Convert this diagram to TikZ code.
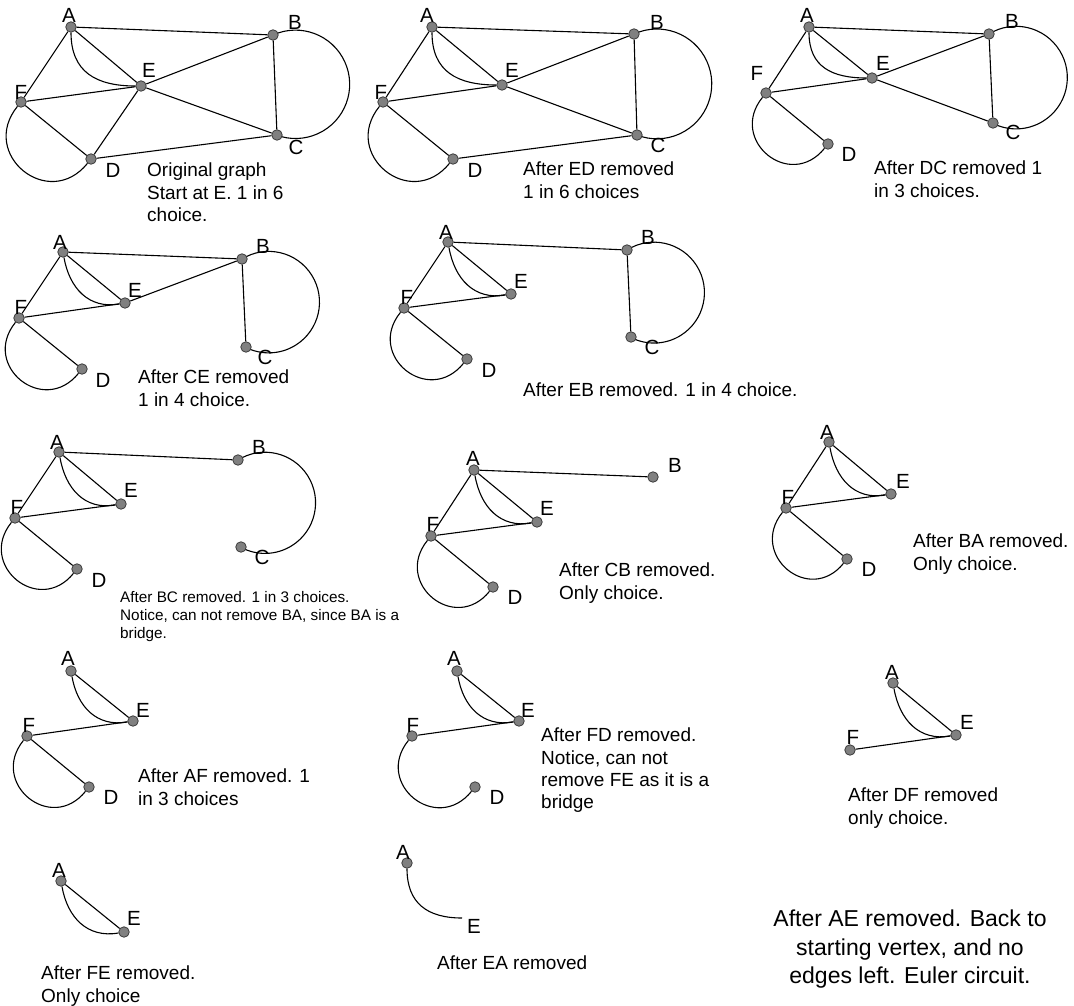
\documentclass[tikz,border=0pt]{standalone}
\usepackage{fontspec}
\setmainfont{Liberation Sans}
\definecolor{vfill}{RGB}{128,128,128}
\definecolor{vdraw}{RGB}{60,60,60}
\pgfdeclarelayer{bg}
\pgfsetlayers{bg,main}
\begin{document}
\begin{tikzpicture}[x=1pt,y=1pt,
  v/.style={circle,draw=vdraw,fill=vfill,minimum size=10.5pt,inner sep=0pt,line width=0.8pt},
  lab/.style={font=\fontsize{20.5}{22}\selectfont,inner sep=0pt},
  captxt/.style={font=\fontsize{19}{22.3}\selectfont,align=left,anchor=north west,inner sep=0pt},
  smallcaptxt/.style={font=\fontsize{15.3}{18}\selectfont,align=left,anchor=north west,inner sep=0pt},
  bigcaptxt/.style={font=\fontsize{23}{28.3}\selectfont,align=center,anchor=north,inner sep=0pt},
  e/.style={line width=1.1pt},
  aeA/.style={e,out=-90,in=180,looseness=1.2},
  aeB/.style={e,out=-80,in=190,looseness=1.1},
  fd/.style={e,out=-129,in=-129,looseness=1.75}]
\useasboundingbox (0,0) rectangle (1074,-1006);

% ---------- Panel 1 ----------
\node[v] (p1A) at (71,-27) {};
\node[v] (p1B) at (273,-35) {};
\node[v] (p1E) at (141,-86) {};
\node[v] (p1F) at (21,-102) {};
\node[v] (p1D) at (91,-159) {};
\node[v] (p1C) at (277,-135) {};
\node[lab] (p1a) at (69,-15) {A};
\node[lab] (p1b) at (295,-22) {B};
\node[lab] (p1e) at (149,-70) {E};
\node[lab] (p1f) at (21,-92) {F};
\node[lab] (p1d) at (113,-170) {D};
\node[lab] (p1c) at (296,-147) {C};
\draw[e] (p1A) -- (p1B);
\draw[e] (p1A) -- (p1E);
\draw[e] (p1A) -- (p1F);
\draw[aeA] (p1A) to (p1E);
\draw[e] (p1F) -- (p1E);
\draw[e] (p1F) -- (p1D);
\draw[fd] (p1F) to (p1D);
\draw[e] (p1E) -- (p1D);
\draw[e] (p1E) -- (p1B);
\draw[e] (p1E) -- (p1C);
\draw[e] (p1B) -- (p1C);
\draw[e] (p1D) -- (p1C);
\begin{pgfonlayer}{bg}
\draw[e] (p1B.center) arc[start angle=114.5,end angle=-110.6,radius=54.2];
\end{pgfonlayer}
\node[captxt] (p1t) at (147,-163) {Original graph\\Start at E. 1 in 6\\choice.};

% ---------- Panel 2 ----------
\node[v] (p2A) at (432,-27) {};
\node[v] (p2B) at (634,-34) {};
\node[v] (p2E) at (502,-85) {};
\node[v] (p2F) at (383,-102) {};
\node[v] (p2D) at (453,-159) {};
\node[v] (p2C) at (637,-135) {};
\node[lab] (p2a) at (427,-15) {A};
\node[lab] (p2b) at (657,-22) {B};
\node[lab] (p2e) at (512,-70) {E};
\node[lab] (p2f) at (381,-92) {F};
\node[lab] (p2d) at (475,-170) {D};
\node[lab] (p2c) at (658,-145) {C};
\draw[e] (p2A) -- (p2B);
\draw[e] (p2A) -- (p2E);
\draw[e] (p2A) -- (p2F);
\draw[aeA] (p2A) to (p2E);
\draw[e] (p2F) -- (p2E);
\draw[e] (p2F) -- (p2D);
\draw[fd] (p2F) to (p2D);
\draw[e] (p2E) -- (p2B);
\draw[e] (p2E) -- (p2C);
\draw[e] (p2B) -- (p2C);
\draw[e] (p2D) -- (p2C);
\begin{pgfonlayer}{bg}
\draw[e] (p2B.center) arc[start angle=114.6,end angle=-111.7,radius=54.9];
\end{pgfonlayer}
\node[captxt] (p2t) at (523,-162) {After ED removed\\1 in 6 choices};

% ---------- Panel 3 ----------
\node[v] (p3A) at (809,-27) {};
\node[v] (p3B) at (989,-34) {};
\node[v] (p3E) at (872,-78) {};
\node[v] (p3F) at (766,-93) {};
\node[v] (p3D) at (828,-144) {};
\node[v] (p3C) at (993,-123) {};
\node[lab] (p3a) at (807,-15) {A};
\node[lab] (p3b) at (1012,-21) {B};
\node[lab] (p3e) at (883,-63) {E};
\node[lab] (p3f) at (757,-73) {F};
\node[lab] (p3d) at (849,-154) {D};
\node[lab] (p3c) at (1013,-132) {C};
\draw[e] (p3A) -- (p3B);
\draw[e] (p3A) -- (p3E);
\draw[e] (p3A) -- (p3F);
\draw[aeA] (p3A) to (p3E);
\draw[e] (p3F) -- (p3E);
\draw[e] (p3F) -- (p3D);
\draw[fd] (p3F) to (p3D);
\draw[e] (p3E) -- (p3B);
\draw[e] (p3E) -- (p3C);
\draw[e] (p3B) -- (p3C);
\begin{pgfonlayer}{bg}
\draw[e] (p3B.center) arc[start angle=121.8,end angle=-117.9,radius=51.3];
\end{pgfonlayer}
\node[captxt] (p3t) at (874,-161) {After DC removed 1\\in 3 choices.};

% ---------- Panel 4 ----------
\node[v] (p4A) at (63,-252) {};
\node[v] (p4B) at (242,-259) {};
\node[v] (p4E) at (125,-303) {};
\node[v] (p4F) at (19,-318) {};
\node[v] (p4D) at (82,-369) {};
\node[v] (p4C) at (246,-347) {};
\node[lab] (p4a) at (60,-242) {A};
\node[lab] (p4b) at (263,-246) {B};
\node[lab] (p4e) at (135,-290) {E};
\node[lab] (p4f) at (21,-307) {F};
\node[lab] (p4d) at (103,-380) {D};
\node[lab] (p4c) at (265,-357) {C};
\draw[e] (p4A) -- (p4B);
\draw[e] (p4A) -- (p4E);
\draw[e] (p4A) -- (p4F);
\draw[aeB] (p4A) to (p4E);
\draw[e] (p4F) -- (p4E);
\draw[e] (p4F) -- (p4D);
\draw[fd] (p4F) to (p4D);
\draw[e] (p4E) -- (p4B);
\draw[e] (p4B) -- (p4C);
\begin{pgfonlayer}{bg}
\draw[e] (p4B.center) arc[start angle=121.8,end angle=-117.9,radius=50.75];
\end{pgfonlayer}
\node[captxt] (p4t) at (138,-370) {After CE removed\\1 in 4 choice.};

% ---------- Panel 5 ----------
\node[v] (p5A) at (448,-242) {};
\node[v] (p5B) at (627,-250) {};
\node[v] (p5E) at (511,-294) {};
\node[v] (p5F) at (404,-308) {};
\node[v] (p5D) at (467,-359) {};
\node[v] (p5C) at (631,-337) {};
\node[lab] (p5a) at (446,-232) {A};
\node[lab] (p5b) at (648,-237) {B};
\node[lab] (p5e) at (521,-281) {E};
\node[lab] (p5f) at (407,-297) {F};
\node[lab] (p5d) at (489,-370) {D};
\node[lab] (p5c) at (652,-347) {C};
\draw[e] (p5A) -- (p5B);
\draw[e] (p5A) -- (p5E);
\draw[e] (p5A) -- (p5F);
\draw[aeB] (p5A) to (p5E);
\draw[e] (p5F) -- (p5E);
\draw[e] (p5F) -- (p5D);
\draw[fd] (p5F) to (p5D);
\draw[e] (p5B) -- (p5C);
\begin{pgfonlayer}{bg}
\draw[e] (p5B.center) arc[start angle=122.35,end angle=-118.4,radius=50.45];
\end{pgfonlayer}
\node[captxt] (p5t) at (523,-383) {After EB removed. 1 in 4 choice.};

% ---------- Panel 6 ----------
\node[v] (p6A) at (59,-452) {};
\node[v] (p6B) at (238,-460) {};
\node[v] (p6E) at (121,-504) {};
\node[v] (p6F) at (15,-518) {};
\node[v] (p6D) at (77,-569) {};
\node[v] (p6C) at (241,-547) {};
\node[lab] (p6a) at (57,-442) {A};
\node[lab] (p6b) at (259,-447) {B};
\node[lab] (p6e) at (131,-490) {E};
\node[lab] (p6f) at (17,-507) {F};
\node[lab] (p6d) at (99,-580) {D};
\node[lab] (p6c) at (262,-557) {C};
\draw[e] (p6A) -- (p6B);
\draw[e] (p6A) -- (p6E);
\draw[e] (p6A) -- (p6F);
\draw[aeB] (p6A) to (p6E);
\draw[e] (p6F) -- (p6E);
\draw[e] (p6F) -- (p6D);
\draw[fd] (p6F) to (p6D);
\begin{pgfonlayer}{bg}
\draw[e] (p6B.center) arc[start angle=122.2,end angle=-119.3,radius=50.6];
\end{pgfonlayer}
\node[smallcaptxt] (p6t) at (120,-591) {After BC removed. 1 in 3 choices.\\Notice, can not remove BA, since BA is a\\bridge.};

% ---------- Panel 7 ----------
\node[v] (p7A) at (474,-470) {};
\node[v] (p7B) at (653,-477) {};
\node[v] (p7E) at (537,-522) {};
\node[v] (p7F) at (431,-536) {};
\node[v] (p7D) at (493,-587) {};
\node[lab] (p7a) at (473,-458) {A};
\node[lab] (p7b) at (675,-465) {B};
\node[lab] (p7e) at (547,-508) {E};
\node[lab] (p7f) at (433,-524) {F};
\node[lab] (p7d) at (515,-597) {D};
\draw[e] (p7A) -- (p7B);
\draw[e] (p7A) -- (p7E);
\draw[e] (p7A) -- (p7F);
\draw[aeB] (p7A) to (p7E);
\draw[e] (p7F) -- (p7E);
\draw[e] (p7F) -- (p7D);
\draw[fd] (p7F) to (p7D);
\node[captxt] (p7t) at (559,-563) {After CB removed.\\Only choice.};

% ---------- Panel 8 ----------
\node[v] (p8A) at (829,-442) {};
\node[v] (p8E) at (891,-494) {};
\node[v] (p8F) at (786,-508) {};
\node[v] (p8D) at (847,-559) {};
\node[lab] (p8a) at (827,-432) {A};
\node[lab] (p8e) at (903,-481) {E};
\node[lab] (p8f) at (788,-497) {F};
\node[lab] (p8d) at (869,-569) {D};
\draw[e] (p8A) -- (p8E);
\draw[e] (p8A) -- (p8F);
\draw[aeB] (p8A) to (p8E);
\draw[e] (p8F) -- (p8E);
\draw[e] (p8F) -- (p8D);
\draw[fd] (p8F) to (p8D);
\node[captxt] (p8t) at (913,-534) {After BA removed.\\Only choice.};

% ---------- Panel 9 ----------
\node[v] (p9A) at (71,-671) {};
\node[v] (p9E) at (133,-721) {};
\node[v] (p9F) at (27,-736) {};
\node[v] (p9D) at (89,-787) {};
\node[lab] (p9a) at (68,-658) {A};
\node[lab] (p9e) at (143,-710) {E};
\node[lab] (p9f) at (29,-725) {F};
\node[lab] (p9d) at (111,-797) {D};
\draw[e] (p9A) -- (p9E);
\draw[aeB] (p9A) to (p9E);
\draw[e] (p9F) -- (p9E);
\draw[e] (p9F) -- (p9D);
\draw[fd] (p9F) to (p9D);
\node[captxt] (p9t) at (138,-769) {After AF removed. 1\\in 3 choices};

% ---------- Panel 10 ----------
\node[v] (p10A) at (457,-671) {};
\node[v] (p10E) at (519,-721) {};
\node[v] (p10F) at (412,-736) {};
\node[v] (p10D) at (475,-787) {};
\node[lab] (p10a) at (454,-658) {A};
\node[lab] (p10e) at (528,-710) {E};
\node[lab] (p10f) at (413,-725) {F};
\node[lab] (p10d) at (497,-797) {D};
\draw[e] (p10A) -- (p10E);
\draw[aeB] (p10A) to (p10E);
\draw[e] (p10F) -- (p10E);
\draw[fd] (p10F) to (p10D);
\node[captxt] (p10t) at (541,-728) {After FD removed.\\Notice, can not\\remove FE as it is a\\bridge};

% ---------- Panel 11 ----------
\node[v] (p11A) at (893,-683) {};
\node[v] (p11E) at (956,-735) {};
\node[v] (p11F) at (850,-750) {};
\node[lab] (p11a) at (892,-672) {A};
\node[lab] (p11e) at (967,-722) {E};
\node[lab] (p11f) at (853,-737) {F};
\draw[e] (p11A) -- (p11E);
\draw[aeB] (p11A) to (p11E);
\draw[e] (p11F) -- (p11E);
\node[captxt] (p11t) at (848,-788) {After DF removed\\only choice.};

% ---------- Panel 12 ----------
\node[v] (p12A) at (61,-881) {};
\node[v] (p12E) at (124,-932) {};
\node[lab] (p12a) at (59,-870) {A};
\node[lab] (p12e) at (134,-918) {E};
\draw[e] (p12A) -- (p12E);
\draw[aeB] (p12A) to (p12E);
\node[captxt] (p12t) at (41,-966) {After FE removed.\\Only choice};

% ---------- Panel 13 ----------
\node[v] (p13A) at (407,-863) {};
\coordinate (p13E) at (462,-918);
\node[lab] (p13a) at (403,-852) {A};
\node[lab] (p13e) at (474,-926) {E};
\draw[aeA] (p13A) to (p13E);
\node[captxt] (p13t) at (437,-956) {After EA removed};

% ---------- Panel 14 ----------
\node[bigcaptxt] (p14t) at (910,-910) {After AE removed. Back to\\starting vertex, and no\\edges left. Euler circuit.};
\end{tikzpicture}
\end{document}
